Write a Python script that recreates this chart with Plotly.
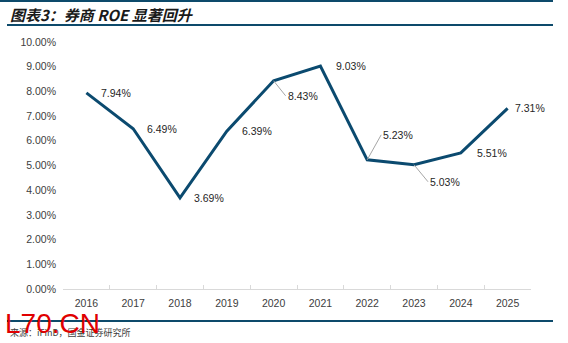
import plotly.graph_objects as go

years = ["2016", "2017", "2018", "2019", "2020", "2021", "2022", "2023", "2024", "2025"]
roe = [7.94, 6.49, 3.69, 6.39, 8.43, 9.03, 5.23, 5.03, 5.51, 7.31]
y_ticks = [0, 1, 2, 3, 4, 5, 6, 7, 8, 9, 10]
y_tick_labels = [f"{v:.2f}%" for v in y_ticks]

# label placement styles (pixel offsets): (ax, ay, arrow)
label_style = {
    "2016": (13, 0, False), "2017": (12, 0, False), "2018": (12, 0, False),
    "2019": (13, 0, False), "2020": (12, 15, True), "2021": (14, 0, False),
    "2022": (14, -25, True), "2023": (14, 17, True), "2024": (14, 0, False),
    "2025": (5, 0, False),
}

LINE = "#0b4a6f"
FONT = "Liberation Sans, Arial"
fig = go.Figure()
fig.add_trace(go.Scatter(x=years, y=roe, mode="lines",
                         line=dict(color=LINE, width=3), hoverinfo="skip"))

for i, (yr, v) in enumerate(zip(years, roe)):
    ax, ay, arrow = label_style[yr]
    txt = f"{v:.2f}%"
    if arrow:
        fig.add_annotation(x=i, y=v, text=txt, showarrow=True, arrowhead=0,
                           arrowwidth=1, arrowcolor="#a6a6a6", ax=ax, ay=ay,
                           xanchor="left", yanchor="middle",
                           font=dict(family=FONT, size=10.5, color="#262626"))
    else:
        fig.add_annotation(x=i, y=v, text=txt, showarrow=False,
                           xanchor="left", yanchor="middle", xshift=ax,
                           font=dict(family=FONT, size=10.5, color="#262626"))

W, H = 568, 343
L, R, T, B = 63, 37, 42, 54
pw, ph = W - L - R, H - T - B
def px(x): return (x - L) / pw
def py(y): return (H - B - y) / ph

# decorative rules
for yy, x0, x1, w in [(1, 0, 553, 2), (25, 7, 553, 2), (321, 7, 553, 2)]:
    fig.add_shape(type="line", xref="paper", yref="paper", x0=px(x0), x1=px(x1),
                  y0=py(yy), y1=py(yy), line=dict(color="#0d4a6b", width=w))

fig.add_annotation(xref="paper", yref="paper", x=px(8), y=py(14), xanchor="left",
                   yanchor="middle", showarrow=False,
                   text="<b><i>图表3：券商 ROE 显著回升</i></b>",
                   font=dict(family="Noto Sans CJK SC", size=15, color="#1a1a1a"))
fig.add_annotation(xref="paper", yref="paper", x=px(8), y=py(332), xanchor="left",
                   yanchor="middle", showarrow=False,
                   text="来源：iFinD，国金证券研究所",
                   font=dict(family="Noto Sans CJK SC", size=9, color="#404040"))
fig.add_annotation(xref="paper", yref="paper", x=px(3), y=py(323), xanchor="left",
                   yanchor="middle", showarrow=False, text="L70.CN",
                   font=dict(family="Liberation Sans", size=28, color="#e00000"))

fig.update_layout(
    width=W, height=H, margin=dict(l=L, r=R, t=T, b=B),
    paper_bgcolor="white", plot_bgcolor="white", showlegend=False,
    xaxis=dict(type="category", showgrid=False, showline=True, linecolor="#d9d9d9",
               linewidth=1, ticks="inside", tickson="boundaries", ticklen=4,
               tickcolor="#d9d9d9", range=[-0.5, 9.5], ticklabelstandoff=4,
               tickfont=dict(family=FONT, size=10.5, color="#404040")),
    yaxis=dict(range=[0, 10], tickvals=y_ticks, ticktext=y_tick_labels, showgrid=False,
               zeroline=False, showline=False, ticks="", ticklabelstandoff=6,
               tickfont=dict(family=FONT, size=10.5, color="#404040")),
)
fig.write_html("out.html")
